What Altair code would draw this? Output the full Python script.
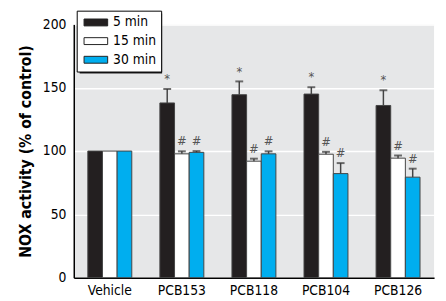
import altair as alt
import pandas as pd

groups = ["Vehicle", "PCB153", "PCB118", "PCB104", "PCB126"]
times = ["5 min", "15 min", "30 min"]
colors = ["#231f20", "#ffffff", "#00aeef"]

val_5 = [100, 138, 144.5, 145, 136]
val_15 = [100, 97.8, 92, 97.5, 94.4]
val_30 = [100, 99, 97.8, 82.2, 79.4]

err_5 = [0, 11, 10.5, 5.4, 12]
err_15 = [0, 2, 2, 1.9, 2.1]
err_30 = [0, 1, 2, 8.3, 6.7]

ann_5 = ["", "*", "*", "*", "*"]
ann_15 = ["", "#", "#", "#", "#"]
ann_30 = ["", "#", "#", "#", "#"]

rows = []
for t, vals, errs, anns in [("5 min", val_5, err_5, ann_5),
                            ("15 min", val_15, err_15, ann_15),
                            ("30 min", val_30, err_30, ann_30)]:
    for g, v, e, a in zip(groups, vals, errs, anns):
        rows.append({"group": g, "time": t, "value": v, "upper": v + e, "ann": a})
df = pd.DataFrame(rows)

FONT = "DejaVu Sans Condensed, Roboto, sans-serif"

x = alt.X("group:N", sort=groups, title=None,
          scale=alt.Scale(paddingInner=0.39, paddingOuter=0.195),
          axis=alt.Axis(labelAngle=0, ticks=False, domainColor="#000", domainWidth=1.5,
                        labelFont=FONT, labelFontSize=14, labelColor="#000", labelPadding=6))
xo = alt.XOffset("time:N", scale=alt.Scale(domain=times))
y = alt.Y("value:Q", title="NOX activity (% of control)",
          scale=alt.Scale(domain=[0, 200]),
          axis=alt.Axis(values=[0, 50, 100, 150, 200], ticks=False, domainColor="#000",
                        domainWidth=1.5, gridColor="#ffffff", gridWidth=1.5,
                        labelFont=FONT, labelFontSize=14, labelColor="#000", labelPadding=8,
                        titleFont=FONT, titleFontSize=16, titleFontWeight="bold",
                        titleColor="#000", titlePadding=9))

base = alt.Chart(df)

bars = base.mark_bar(stroke="#444", strokeWidth=1).encode(
    x=x, xOffset=xo, y=y,
    color=alt.Color("time:N", scale=alt.Scale(domain=times, range=colors),
                    legend=alt.Legend(title=None, orient="none", legendX=3, legendY=-14,
                                      strokeColor="#000", fillColor="#fff", padding=5,
                                      symbolType="M-1.85,-0.54L1.85,-0.54L1.85,0.54L-1.85,0.54Z",
                                      symbolSize=169, symbolOffset=7.5,
                                      symbolStrokeColor="#222", symbolStrokeWidth=1,
                                      labelFont=FONT, labelFontSize=14, labelColor="#000",
                                      rowPadding=5, labelOffset=10.5)),
)

err = base.transform_filter("datum.upper > datum.value").mark_rule(color="#444", strokeWidth=1.5).encode(
    x=alt.X("group:N", sort=groups), xOffset=xo, y="value:Q", y2="upper:Q")
caps = base.transform_filter("datum.upper > datum.value").mark_tick(
    color="#333", thickness=2, size=8, orient="horizontal").encode(
    x=alt.X("group:N", sort=groups), xOffset=xo, y="upper:Q")
ann = base.mark_text(dy=-10, font=FONT, fontSize=13, color="#555", fontStyle="italic").encode(
    x=alt.X("group:N", sort=groups), xOffset=xo, y="upper:Q", text="ann:N")

shadow = alt.Chart(pd.DataFrame({"a": [0]})).mark_rect(color="#222").encode(
    x=alt.value(6), x2=alt.value(90), y=alt.value(-11), y2=alt.value(50))

chart = alt.layer(shadow, bars, err, caps, ann).properties(
    width=367, height=258,
    autosize=alt.AutoSizeParams(type="none"),
    padding={"left": 67, "top": 14, "right": 4, "bottom": 21},
).configure_view(stroke=None, fill="#e6e7e8")

chart.save("out.html", embed_options={"renderer": "svg", "actions": False})
